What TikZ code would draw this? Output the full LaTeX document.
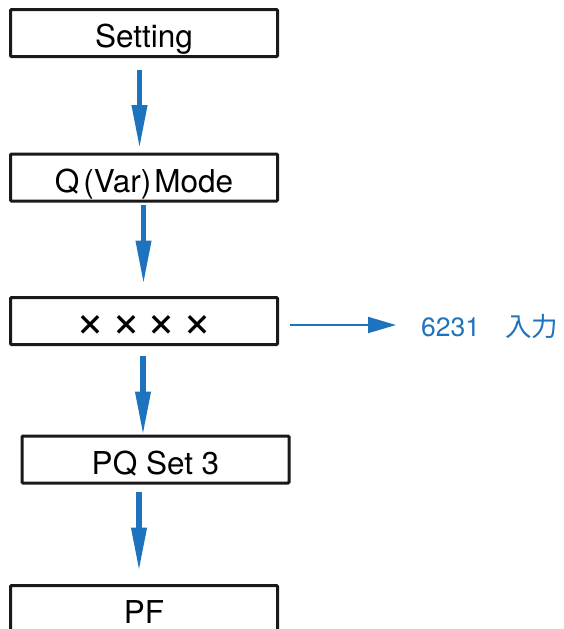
\documentclass[tikz,border=0pt]{standalone}
\usepackage{fontspec}
\setmainfont{TeX Gyre Heros}
\newfontfamily\jpfont{Noto Sans CJK JP}
\usetikzlibrary{arrows.meta}
\usepackage{xcolor}
\definecolor{flowblue}{RGB}{30,115,190}

\begin{document}
\begin{tikzpicture}[x=1pt,y=-1pt,
  stepbox/.style={draw=black!90, line width=3pt, rounded corners=1pt,
    minimum width=267pt, minimum height=47pt, inner sep=0pt,
    font=\fontsize{31.5}{36}\selectfont, text height=29pt, text depth=0pt},
  downarrow/.style={flowblue, line width=5.5pt, -{Triangle[length=44pt,width=14.5pt]}},
  sidearrow/.style={flowblue, line width=2pt, -{Triangle[length=28pt,width=16pt]}}]

% the page is as large as the reference
\useasboundingbox (0,0) rectangle (564,629);

%% we draw the boxes of the menu path
\node[stepbox] (setting) at (144,33) {Setting};
\node[stepbox] (qmode) at (144,177.5) {Q\kern4pt(Var)\kern3pt Mode};
\node[stepbox, font=\fontsize{28}{32}\selectfont] (code) at (144,321)
  {\jpfont\bfseries ×\hspace{0.28em}×\hspace{0.28em}×\hspace{0.28em}×};
\node[stepbox] (pqset) at (155.5,459.5) {PQ Set 3};
\node[stepbox] (pf) at (144,609) {PF};

% the password that goes in the fourth box
\node[anchor=base west, inner sep=0pt, text=flowblue, font=\fontsize{26.5}{30}\selectfont]
  (input) at (421,336) {6231\hspace{0.95em}{\jpfont 入力}};
\coordinate (inputtip) at (396,325);

% we draw the arrows from box to box
\draw[downarrow, shorten <=11.5pt, shorten >=3.5pt]
  ([xshift=-4.5pt]setting.south) -- ([xshift=-4.5pt]setting.south |- qmode.north);
\draw[downarrow, shorten <=2.5pt, shorten >=11.5pt]
  ([xshift=-0.5pt]qmode.south) -- ([xshift=-0.5pt]qmode.south |- code.north);
\draw[downarrow, shorten <=9.5pt, shorten >=-1pt]
  ([xshift=-1pt]code.south) -- ([xshift=-1pt]code.south |- pqset.north);
\draw[downarrow, shorten <=7.5pt, shorten >=12.5pt]
  ([xshift=-16.5pt]pqset.south) -- ([xshift=-16.5pt]pqset.south |- pf.north);

\draw[sidearrow, shorten <=11pt] (code.east |- inputtip) -- (inputtip);

\end{tikzpicture}
\end{document}
